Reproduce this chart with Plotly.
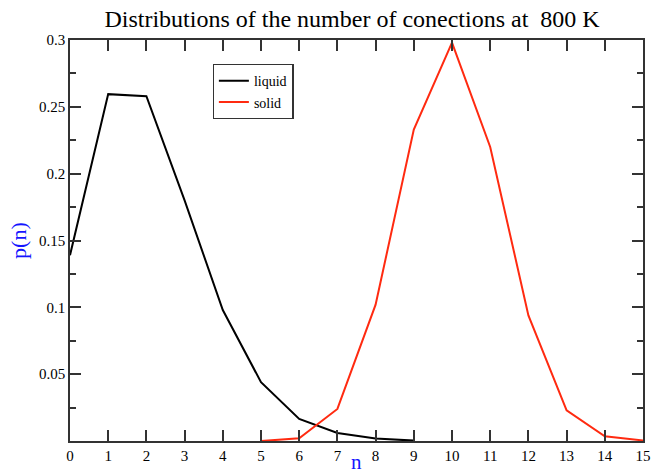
import plotly.graph_objects as go

n_liquid = [0, 1, 2, 3, 4, 5, 6, 7, 8, 9]
p_liquid = [0.139, 0.2595, 0.258, 0.18, 0.098, 0.044, 0.0165, 0.006, 0.0018, 0.0003]
n_solid = [5, 6, 7, 8, 9, 10, 11, 12, 13, 14, 15]
p_solid = [0.0, 0.002, 0.024, 0.102, 0.233, 0.298, 0.22, 0.094, 0.023, 0.0035, 0.0004]
x_ticks = list(range(0, 16))
y_ticks = [0.05, 0.1, 0.15, 0.2, 0.25, 0.3]
y_tick_labels = ["0.05", "0.1", "0.15", "0.2", "0.25", "0.3"]

FONT = "Liberation Serif"
BLUE = "#1515ff"

fig = go.Figure()
fig.add_trace(go.Scatter(x=n_liquid, y=p_liquid, mode="lines", name="liquid",
                         line=dict(color="black", width=2)))
fig.add_trace(go.Scatter(x=n_solid, y=p_solid, mode="lines", name="solid",
                         line=dict(color="#ff2a10", width=2)))

axis_common = dict(showgrid=False, zeroline=False, showline=True, linecolor="#333333",
                   linewidth=1.5, mirror="ticks", ticks="inside", tickcolor="#333333",
                   tickwidth=1.5, ticklen=11, automargin=False,
                   ticklabeloverflow="allow",
                   tickfont=dict(family=FONT, size=15, color="black"))

fig.update_xaxes(range=[0, 15], tickvals=x_ticks, ticktext=[str(v) for v in x_ticks],
                 **axis_common)
fig.update_yaxes(range=[0, 0.3], tickvals=y_ticks, ticktext=y_tick_labels,
                 minor=dict(ticks="inside", ticklen=6, tickcolor="#333333", tickwidth=1.5,
                            tickvals=[0.025, 0.075, 0.125, 0.175, 0.225, 0.275]),
                 **axis_common)

fig.add_annotation(text="n", xref="paper", yref="paper", x=0.5, y=-0.052,
                   xanchor="center", yanchor="middle", showarrow=False,
                   font=dict(family=FONT, size=21, color=BLUE))
fig.add_annotation(text="p(n)", xref="paper", yref="paper", x=-0.09, y=0.5,
                   xanchor="center", yanchor="middle", showarrow=False, textangle=-90,
                   font=dict(family=FONT, size=22, color=BLUE))

fig.update_layout(
    width=652, height=473,
    margin=dict(l=70, r=9, t=40, b=32),
    paper_bgcolor="white", plot_bgcolor="white",
    title=dict(text="Distributions of the number of conections at  800 K",
               font=dict(family=FONT, size=24, color="black"),
               x=0.54, xanchor="center", y=0.978, yanchor="top"),
    legend=dict(x=0.249, y=0.94, xanchor="left", yanchor="top",
                bordercolor="#333333", borderwidth=1.2, bgcolor="white",
                font=dict(family=FONT, size=14, color="black"),
                tracegroupgap=0, itemwidth=30),
    showlegend=True,
)

fig.write_html("out.html", config={"displayModeBar": False},
               post_script="document.body.style.margin='0';document.body.style.overflow='hidden';")
